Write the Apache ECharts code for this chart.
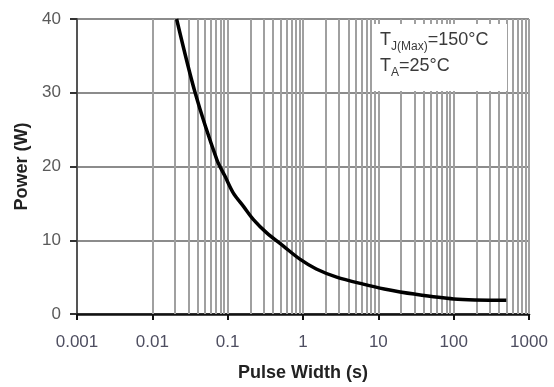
<!DOCTYPE html>
<html>
<head>
<meta charset="utf-8">
<script src="https://cdn.jsdelivr.net/npm/echarts@6/dist/echarts.min.js"></script>
<style>
html, body { margin: 0; padding: 0; background: #fff; }
#main { width: 554px; height: 387px; }
</style>
</head>
<body>
<div id="main"></div>
<script>
// pulse width (s) and power (W)
var pulseWidth = [0.021, 0.037, 0.072, 0.092, 0.119, 0.162, 0.22, 0.33, 0.55, 0.92, 1.5, 2.8, 6.3, 12, 30, 100, 500];
var power = [40, 30, 20.9, 18.7, 16.4, 14.6, 12.8, 11.0, 9.2, 7.4, 6.1, 5.0, 4.05, 3.4, 2.7, 2.05, 1.85];

var xTickLabels = ['0.001', '0.01', '0.1', '1', '10', '100', '1000'];
var decades = [0.001, 0.01, 0.1, 1, 10, 100, 1000];
var minorSteps = [2, 3, 4, 5, 6, 7, 8, 9];

// vertical log grid lines
var gridLines = [];
decades.forEach(function (d, i) {
	gridLines.push({ xAxis: d });
	if (i < decades.length - 1) {
		minorSteps.forEach(function (m) {
			gridLines.push({ xAxis: d * m });
		});
	}
});

var curve = pulseWidth.map(function (x, i) {
	return [x, power[i]];
});

var myChart = echarts.init(document.getElementById('main'));
var option = {
	animation: false,
	grid: {
		left: 77,
		right: 25,
		top: 19,
		bottom: 72
	},
	xAxis: {
		type: 'log',
		logBase: 10,
		min: 0.001,
		max: 1000,
		splitNumber: 6,
		name: 'Pulse Width (s)',
		nameLocation: 'middle',
		nameGap: 50,
		nameTextStyle: {
			fontFamily: 'Liberation Sans, Arial',
			fontWeight: 'bold',
			fontSize: 18,
			color: '#222'
		},
		axisLine: {
			lineStyle: { color: '#111', width: 2.5 }
		},
		axisTick: {
			show: true,
			inside: false,
			length: 6,
			lineStyle: { color: '#111', width: 2 }
		},
		axisLabel: {
			margin: 20,
			fontFamily: 'Liberation Sans, Arial',
			fontSize: 17,
			color: '#4e4e60',
			formatter: function (v) {
				var k = Math.round(Math.log10(v)) + 3;
				return xTickLabels[k] || '';
			}
		},
		splitLine: { show: false },
		minorTick: { show: false },
		minorSplitLine: { show: false }
	},
	yAxis: {
		type: 'value',
		min: 0,
		max: 40,
		interval: 10,
		name: 'Power (W)',
		nameLocation: 'middle',
		nameGap: 46,
		nameTextStyle: {
			fontFamily: 'Liberation Sans, Arial',
			fontWeight: 'bold',
			fontSize: 18,
			color: '#222'
		},
		axisLine: {
			show: true,
			lineStyle: { color: '#555', width: 2 }
		},
		axisTick: {
			show: true,
			inside: false,
			length: 7,
			lineStyle: { color: '#333', width: 2 }
		},
		axisLabel: {
			margin: 16,
			fontFamily: 'Liberation Sans, Arial',
			fontSize: 17,
			color: '#5a5a5a'
		},
		splitLine: {
			show: true,
			lineStyle: { color: '#8c8c8c', width: 2 }
		}
	},
	graphic: [{
		type: 'rect',
		z: 100,
		shape: { x: 373, y: 24, width: 134, height: 67 },
		style: { fill: '#fff' }
	}, {
		type: 'text',
		z: 101,
		left: 380,
		top: 31,
		style: {
			text: '{a|T}{s|J(Max)}{a|=150°C}\n{a|T}{s|A}{a|=25°C}',
			rich: {
				a: {
					fontFamily: 'Liberation Sans, Arial',
					fontSize: 18,
					lineHeight: 26,
					verticalAlign: 'middle',
					fill: '#3a3a3a'
				},
				s: {
					fontFamily: 'Liberation Sans, Arial',
					fontSize: 12,
					lineHeight: 26,
					verticalAlign: 'bottom',
					fill: '#3a3a3a'
				}
			}
		}
	}],
	series: [{
		name: 'grid',
		type: 'line',
		z: 1,
		silent: true,
		data: [],
		markLine: {
			silent: true,
			symbol: 'none',
			label: { show: false },
			lineStyle: { type: 'solid', color: '#a0a0a0', width: 2 },
			data: gridLines
		}
	}, {
		name: 'Power',
		type: 'line',
		z: 5,
		smooth: 0.3,
		symbol: 'none',
		lineStyle: { color: '#000', width: 3.5 },
		data: curve
	}]
};
myChart.setOption(option);
</script>
</body>
</html>
